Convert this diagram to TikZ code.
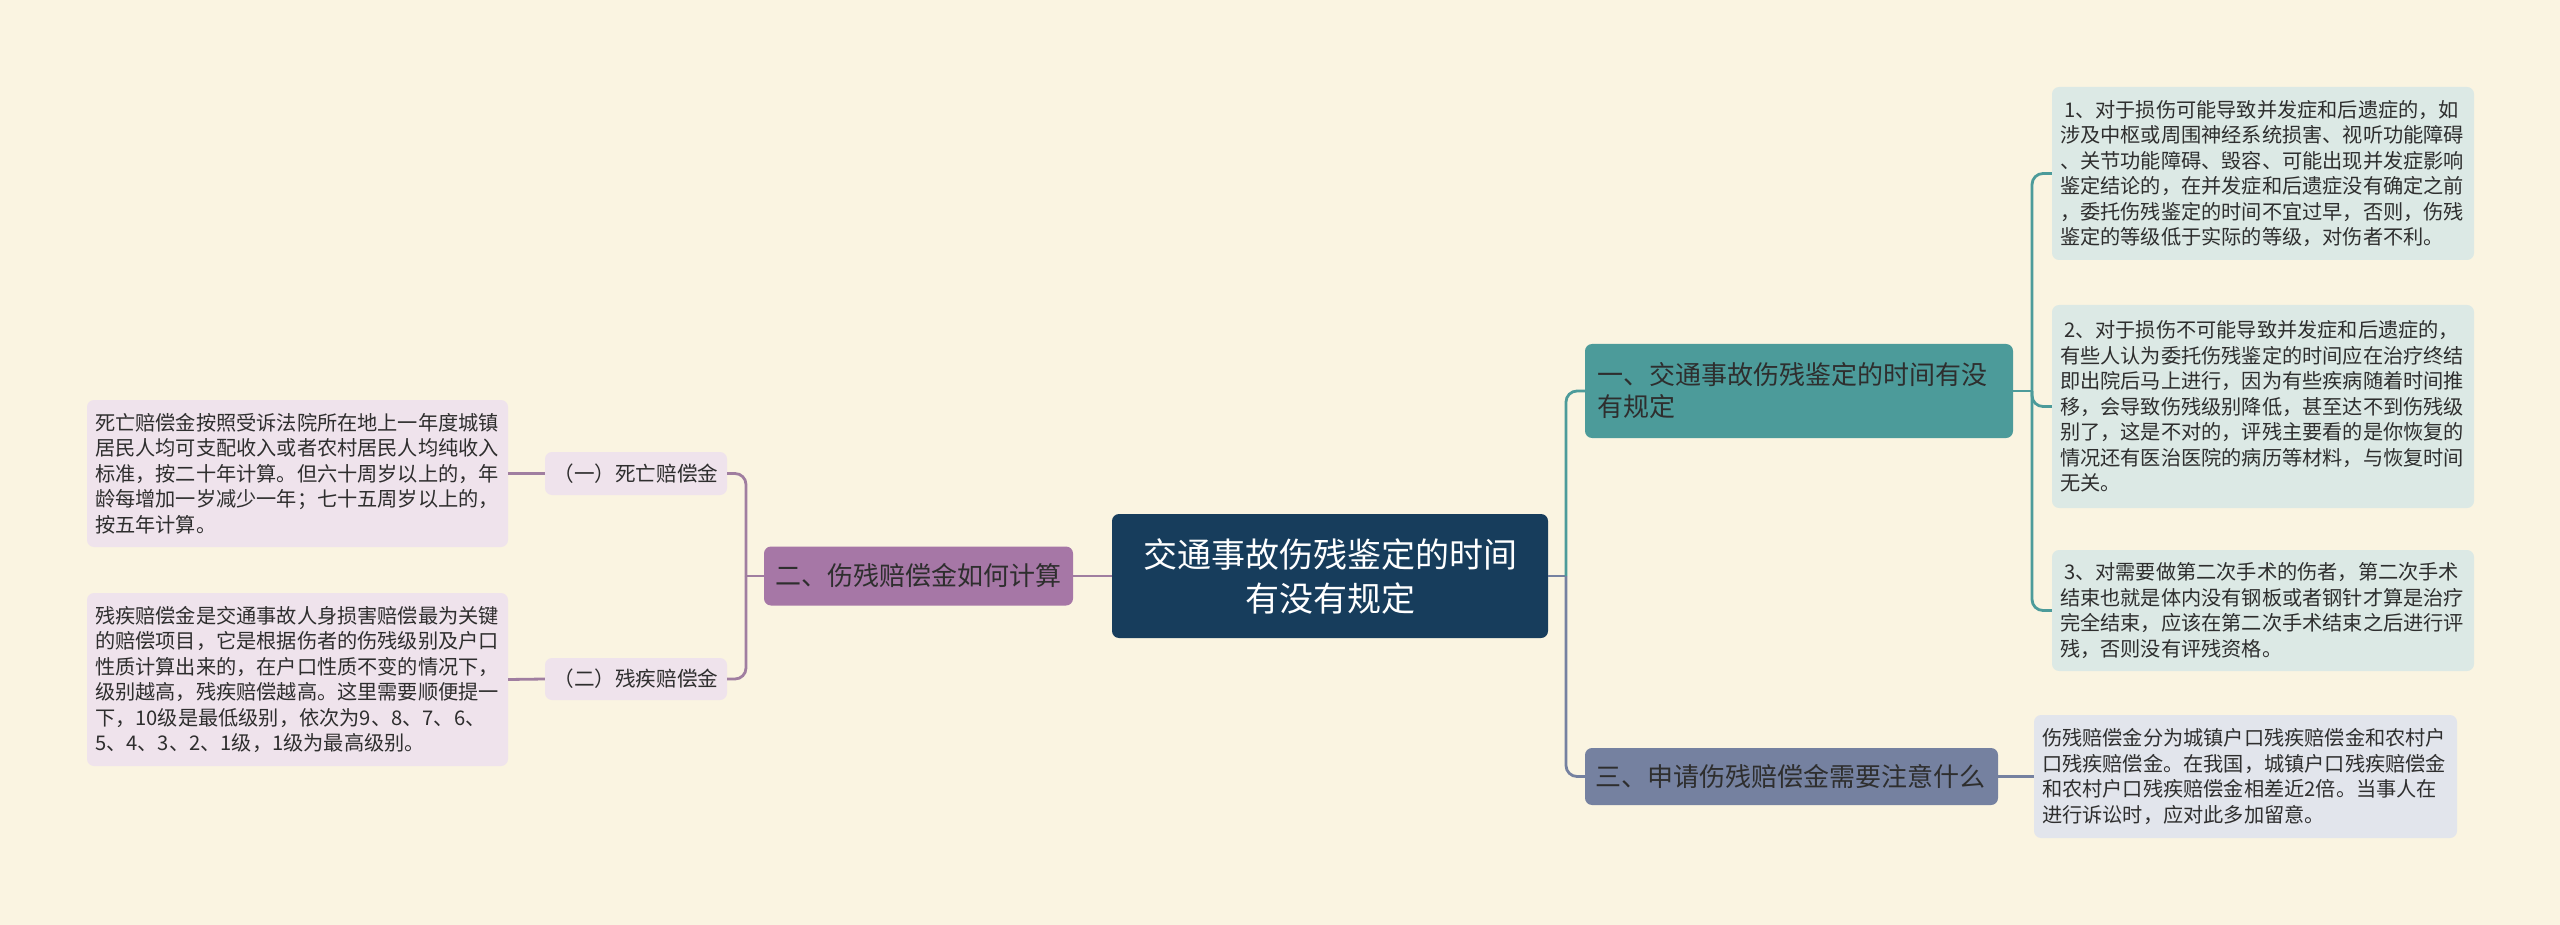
\documentclass[tikz,border=0pt]{standalone}
\usepackage{fontspec}
\setmainfont{Noto Sans CJK SC}
\definecolor{bgc}{HTML}{FAF4E1}
\definecolor{navy}{HTML}{173D5C}
\definecolor{tealc}{HTML}{4C9B9A}
\definecolor{slatec}{HTML}{7581A0}
\definecolor{purplec}{HTML}{A677A6}
\definecolor{purpleline}{HTML}{A07EA0}
\definecolor{lavfill}{HTML}{EFE3EC}
\definecolor{tealfill}{HTML}{DCE9E5}
\definecolor{slatefill}{HTML}{E2E5EC}
\definecolor{txt}{HTML}{2E2E2E}
\begin{document}
\begin{tikzpicture}[x=1pt,y=-1pt,
  box/.style={rounded corners=7pt, inner ysep=0pt, anchor=center, align=left},
  leafstyle/.style={box, font=\fontsize{20.2pt}{25.5pt}\selectfont, text=txt, inner xsep=0pt},
  branchstyle/.style={box, font=\fontsize{26pt}{32pt}\selectfont, text=txt, inner xsep=0pt},
  conn/.style={line width=2.8pt, rounded corners=11pt}]
\fill[bgc] (0,0) rectangle (2560,925);
\useasboundingbox (0,0) rectangle (2560,925);

% center
\node[box, fill=navy, text=white, align=center, minimum width=436pt, minimum height=124pt,
  font=\fontsize{34pt}{44pt}\selectfont] (center) at (1330,576) {交通事故伤残鉴定的时间\\有没有规定};

% branches
\node[branchstyle, fill=tealc, minimum width=428pt, minimum height=94pt, text width=404pt] (b1) at (1799,391)
 {一、交通事故伤残鉴定的时间有没\\有规定};
\node[branchstyle, fill=slatec, minimum width=413pt, minimum height=57pt, text width=392pt] (b3) at (1791.5,776.5)
 {三、申请伤残赔偿金需要注意什么};
\node[branchstyle, fill=purplec, minimum width=309pt, minimum height=59pt, text width=287pt] (b2) at (918.5,576)
 {二、伤残赔偿金如何计算};

% sub nodes left
\node[leafstyle, font=\fontsize{20.6pt}{25.5pt}\selectfont, fill=lavfill, minimum width=182pt, minimum height=43pt, text width=165pt] (s1) at (636,473.5)
 {（一）死亡赔偿金};
\node[leafstyle, font=\fontsize{20.6pt}{25.5pt}\selectfont, fill=lavfill, minimum width=182pt, minimum height=42pt, text width=165pt] (s2) at (636,679)
 {（二）残疾赔偿金};

% left leaves
\node[leafstyle, fill=lavfill, minimum width=421pt, minimum height=147pt, text width=405pt] (l1) at (297.5,473.5)
 {死亡赔偿金按照受诉法院所在地上一年度城镇\\居民人均可支配收入或者农村居民人均纯收入\\标准，按二十年计算。但六十周岁以上的，年\\龄每增加一岁减少一年；七十五周岁以上的，\\按五年计算。};
\node[leafstyle, fill=lavfill, minimum width=421pt, minimum height=173pt, text width=405pt] (l2) at (297.5,679.5)
 {残疾赔偿金是交通事故人身损害赔偿最为关键\\的赔偿项目，它是根据伤者的伤残级别及户口\\性质计算出来的，在户口性质不变的情况下，\\级别越高，残疾赔偿越高。这里需要顺便提一\\下，10级是最低级别，依次为9、8、7、6、\\5、4、3、2、1级，1级为最高级别。};

% right leaves
\node[leafstyle, fill=tealfill, minimum width=422pt, minimum height=173pt, text width=406pt] (r1) at (2263,173.5)
 {\hspace{4pt}1、对于损伤可能导致并发症和后遗症的，如\\涉及中枢或周围神经系统损害、视听功能障碍\\、关节功能障碍、毁容、可能出现并发症影响\\鉴定结论的，在并发症和后遗症没有确定之前\\，委托伤残鉴定的时间不宜过早，否则，伤残\\鉴定的等级低于实际的等级，对伤者不利。};
\node[leafstyle, fill=tealfill, minimum width=422pt, minimum height=203pt, text width=406pt] (r2) at (2263,406.5)
 {\hspace{4pt}2、对于损伤不可能导致并发症和后遗症的，\\有些人认为委托伤残鉴定的时间应在治疗终结\\即出院后马上进行，因为有些疾病随着时间推\\移，会导致伤残级别降低，甚至达不到伤残级\\别了，这是不对的，评残主要看的是你恢复的\\情况还有医治医院的病历等材料，与恢复时间\\无关。};
\node[leafstyle, fill=tealfill, minimum width=422pt, minimum height=121pt, text width=406pt] (r3) at (2263,610.5)
 {\hspace{4pt}3、对需要做第二次手术的伤者，第二次手术\\结束也就是体内没有钢板或者钢针才算是治疗\\完全结束，应该在第二次手术结束之后进行评\\残，否则没有评残资格。};
\node[leafstyle, fill=slatefill, minimum width=423pt, minimum height=123pt, text width=407pt] (r4) at (2245.5,776.5)
 {伤残赔偿金分为城镇户口残疾赔偿金和农村户\\口残疾赔偿金。在我国，城镇户口残疾赔偿金\\和农村户口残疾赔偿金相差近2倍。当事人在\\进行诉讼时，应对此多加留意。};

% junctions
\coordinate (jc) at (1566,576);
\coordinate (jr) at (2032,391);
\coordinate (jl) at (746,576);

% connectors
\draw[conn, slatec] (center.east) -- (jc);
\draw[conn, tealc] (jc) |- (b1.west);
\draw[conn, slatec] (jc) |- (b3.west);
\draw[conn, tealc] (b1.east) -- (jr);
\draw[conn, tealc] (jr) |- (r1.west);
\draw[conn, tealc] (jr) |- (r2.west);
\draw[conn, tealc] (jr) |- (r3.west);
\draw[conn, slatec] (b3.east) -- (r4.west);
\draw[conn, purpleline] (center.west) -- (b2.east);
\draw[conn, purpleline] (b2.west) -- (jl);
\draw[conn, purpleline] (jl) |- (s1.east);
\draw[conn, purpleline] (jl) |- (s2.east);
\draw[conn, purpleline] (s1.west) -- (l1.east);
\draw[conn, purpleline] (s2.west) -- (l2.east);
\end{tikzpicture}
\end{document}
